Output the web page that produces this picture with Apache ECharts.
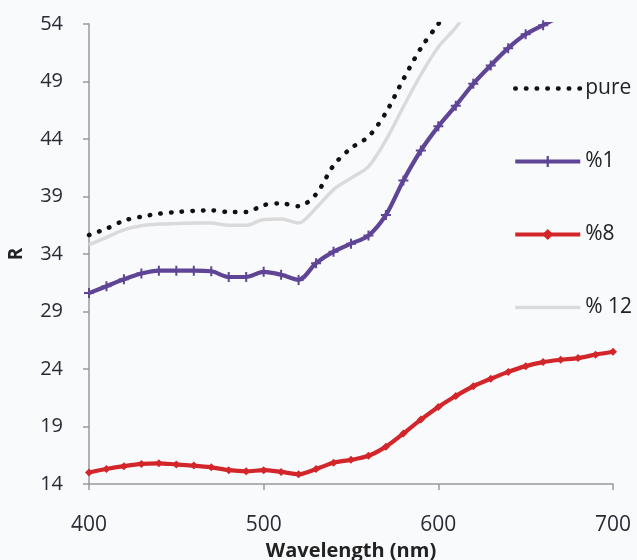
<!DOCTYPE html>
<html>
<head>
<meta charset="utf-8">
<script src="https://cdn.jsdelivr.net/npm/echarts@6/dist/echarts.min.js"></script>
<style>
  html, body { margin: 0; padding: 0; background: #f9fafc; }
  #chart { width: 637px; height: 560px; }
</style>
</head>
<body>
<div id="chart"></div>
<script>
// Reflectance spectra, sampled every 10 nm
const wavelengths = [400,410,420,430,440,450,460,470,480,490,500,510,520,530,540,550,560,570,580,590,600,610,620,630,640,650,660,670,680,690,700];

const pure = [35.65,36.2,36.9,37.25,37.5,37.65,37.75,37.8,37.65,37.65,38.25,38.4,38.15,39.2,41.7,43.2,44.2,46.3,49.2,51.9,54.0,56.0,null,null,null,null,null,null,null,null,null];
const pct1 = [30.6,31.2,31.8,32.3,32.55,32.55,32.55,32.5,32.0,32.0,32.45,32.2,31.75,33.2,34.2,34.9,35.6,37.4,40.4,43.0,45.1,46.9,48.8,50.4,51.9,53.1,53.9,54.7,null,null,null];
const pct8 = [15.0,15.3,15.55,15.75,15.8,15.7,15.6,15.45,15.2,15.1,15.2,15.05,14.85,15.3,15.85,16.1,16.45,17.25,18.4,19.6,20.7,21.65,22.5,23.15,23.75,24.25,24.6,24.8,24.95,25.25,25.5];
const pct12 = [34.8,35.45,36.1,36.45,36.6,36.65,36.7,36.7,36.5,36.5,37.0,37.05,36.7,38.0,39.6,40.6,41.6,43.9,46.8,49.6,52.0,53.7,55.9,null,null,null,null,null,null,null,null];

const seriesNames = ['pure', '%1', '%8', '% 12'];
const xTicks = { min: 400, max: 700, interval: 100 };
const yTicks = { min: 14, max: 54, interval: 5 };

const pairs = arr => wavelengths.map((w, i) => [w, arr[i]]);

const FONT = '"Open Sans", Lato, sans-serif';
const plusPath = 'path://M4,0h2v4h4v2h-4v4h-2v-4h-4v-2h4z';
const hiddenMarker = { opacity: 0 };

const chart = echarts.init(document.getElementById('chart'), null, { renderer: 'canvas' });
chart.setOption({
  backgroundColor: '#f9fafc',
  animation: false,
  grid: { left: 89, right: 24, top: 24, bottom: 76, containLabel: false, outerBoundsMode: 'none' },
  legend: {
    orient: 'vertical',
    left: 508,
    top: 73,
    itemWidth: 65,
    itemHeight: 14,
    itemGap: 52,
    textStyle: { fontFamily: FONT, fontSize: 21, color: '#222' },
    data: [
      { name: seriesNames[0], itemStyle: hiddenMarker, lineStyle: { width: 4.5 } },
      { name: seriesNames[1], lineStyle: { width: 4.2 } },
      { name: seriesNames[2], lineStyle: { width: 4.2 } },
      { name: seriesNames[3], itemStyle: hiddenMarker, lineStyle: { width: 3.5 } }
    ]
  },
  xAxis: {
    type: 'value',
    min: xTicks.min, max: xTicks.max, interval: xTicks.interval,
    name: 'Wavelength (nm)',
    nameLocation: 'middle',
    nameGap: 57,
    nameTextStyle: { fontFamily: FONT, fontSize: 20, fontWeight: 'bold', color: '#222' },
    axisLine: { show: true, lineStyle: { color: '#9a9a9a', width: 1.5 } },
    axisTick: { show: true, length: 6, lineStyle: { color: '#9a9a9a', width: 1.5 } },
    axisLabel: { fontFamily: FONT, fontSize: 21, color: '#2a2a35', margin: 31 },
    splitLine: { show: false }
  },
  yAxis: {
    type: 'value',
    min: yTicks.min, max: yTicks.max, interval: yTicks.interval,
    name: 'R',
    nameLocation: 'middle',
    nameGap: 63,
    nameRotate: 90,
    nameTextStyle: { fontFamily: FONT, fontSize: 19, fontWeight: 'bold', color: '#222' },
    axisLine: { show: true, lineStyle: { color: '#9a9a9a', width: 1.5 } },
    axisTick: { show: true, length: 6, lineStyle: { color: '#9a9a9a', width: 1.5 } },
    axisLabel: { fontFamily: FONT, fontSize: 20, color: '#2a2a35', margin: 26 },
    splitLine: { show: false }
  },
  series: [
    {
      name: seriesNames[0], type: 'line', data: pairs(pure), smooth: 0.3,
      showSymbol: false, clip: true, z: 4,
      itemStyle: { color: '#111' },
      lineStyle: { color: '#111', width: 4.5, type: [0.5, 10.2], cap: 'round' }
    },
    {
      name: seriesNames[1], type: 'line', data: pairs(pct1), smooth: 0.3,
      symbol: plusPath, symbolSize: 10, clip: true, z: 3,
      itemStyle: { color: '#5f4596' },
      lineStyle: { color: '#5f4596', width: 4.2 }
    },
    {
      name: seriesNames[2], type: 'line', data: pairs(pct8), smooth: 0.3,
      symbol: 'diamond', symbolSize: 8, clip: true, z: 3,
      itemStyle: { color: '#d2262a' },
      lineStyle: { color: '#d2262a', width: 4.2 }
    },
    {
      name: seriesNames[3], type: 'line', data: pairs(pct12), smooth: 0.3,
      showSymbol: false, clip: true, z: 2,
      itemStyle: { color: '#dadada' },
      lineStyle: { color: '#dadada', width: 3.5 }
    }
  ]
});
</script>
</body>
</html>
